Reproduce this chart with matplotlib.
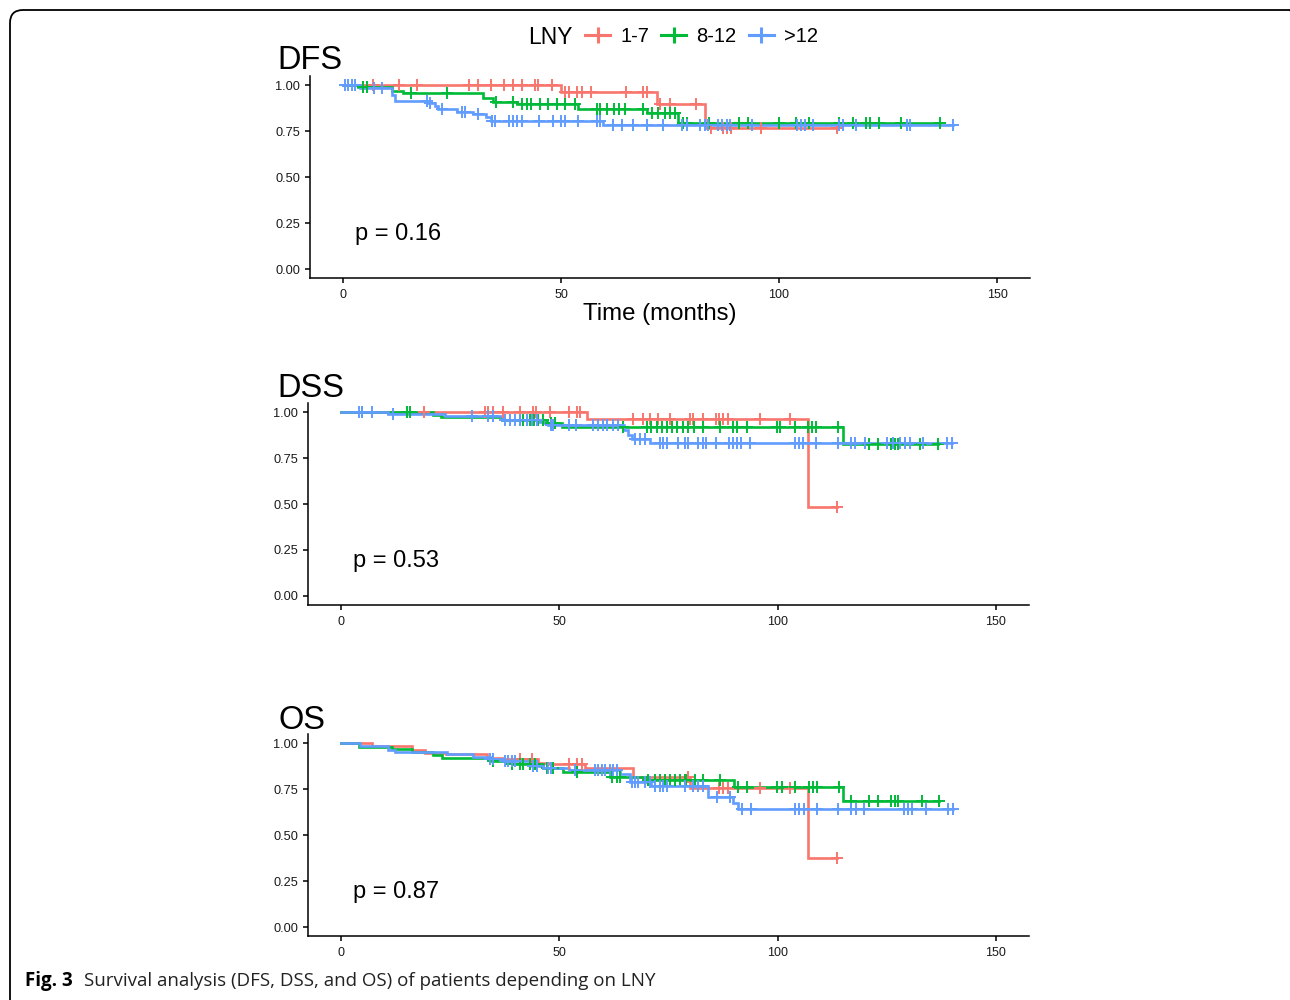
import numpy as np
import matplotlib
matplotlib.use("Agg")
import matplotlib.pyplot as plt
from matplotlib.lines import Line2D
from matplotlib.patches import FancyBboxPatch

# ---------------- data ----------------
groups = ["1-7", "8-12", ">12"]
colors = ["#F8766D", "#00BA38", "#619CFF"]
panel_names = ["DFS", "DSS", "OS"]
pvalues = ["p = 0.16", "p = 0.53", "p = 0.87"]
xticks = [0, 50, 100, 150]
yticks = [0.00, 0.25, 0.50, 0.75, 1.00]
xlabel = "Time (months)"
caption_bold = "Fig. 3"
caption_rest = "Survival analysis (DFS, DSS, and OS) of patients depending on LNY"

# DFS
dfs_red_t = [50.0, 72.0, 83.0]
dfs_red_s = [0.964, 0.897, 0.765]
dfs_red_end = 113.2
dfs_red_c = [6.8, 12.9, 16.9, 29.0, 30.9, 33.9, 36.9, 38.9, 41.0, 44.0, 44.8, 47.9,
             50.9, 51.9, 53.6, 54.9, 56.9, 64.9, 68.9, 69.8, 72.7, 75.0, 81.0,
             84.5, 87.1, 88.0, 88.9, 95.9, 113.2]
dfs_green_t = [3.5, 11.2, 13.8, 32.0, 34.4, 39.8, 54.0, 69.7, 76.9]
dfs_green_s = [0.987, 0.969, 0.955, 0.931, 0.906, 0.895, 0.870, 0.846, 0.795]
dfs_green_end = 136.9
dfs_green_c = [4.7, 5.6, 15.7, 23.8, 35.0, 38.9, 41.0, 42.1, 43.1, 45.2, 47.1, 49.0,
               50.9, 53.2, 58.2, 58.9, 60.5, 62.2, 63.4, 64.7, 68.9, 70.8, 72.3,
               73.9, 75.0, 76.1, 77.9, 79.0, 84.0, 90.9, 93.0, 99.9, 103.9, 106.9,
               113.8, 116.9, 120.0, 120.9, 122.9, 127.9, 136.9]
dfs_blue_t = [3.9, 11.2, 11.9, 19.5, 21.1, 21.9, 26.1, 29.9, 32.8, 33.9, 59.7]
dfs_blue_s = [0.982, 0.946, 0.915, 0.900, 0.886, 0.870, 0.855, 0.842, 0.828, 0.806, 0.781]
dfs_blue_end = 140.0
dfs_blue_c = [0.5, 1.2, 2.0, 2.8, 7.0, 8.9, 19.2, 20.0, 22.6, 27.2, 28.0, 30.9, 34.2,
              34.9, 38.1, 39.1, 40.0, 41.0, 45.0, 48.2, 50.1, 50.9, 53.8, 58.2,
              58.9, 61.9, 63.9, 66.6, 69.8, 73.5, 77.7, 79.0, 81.9, 83.0, 83.8,
              86.1, 86.9, 88.0, 88.8, 93.7, 104.1, 105.0, 106.0, 107.9, 113.8,
              114.7, 117.7, 129.4, 130.0, 140.0]

# DSS
dss_red_t = [56.3, 106.9]
dss_red_s = [0.963, 0.482]
dss_red_end = 113.5
dss_red_c = [19.1, 33.0, 33.7, 34.9, 37.2, 41.0, 44.0, 44.7, 47.9, 52.1, 54.0, 54.7,
             66.9, 69.2, 70.8, 72.7, 75.3, 79.9, 80.7, 82.8, 85.9, 86.6, 87.4,
             88.7, 95.9, 102.8, 113.5]
dss_green_t = [21.1, 23.0, 36.8, 47.1, 50.5, 115.0]
dss_green_s = [0.984, 0.971, 0.957, 0.938, 0.920, 0.826]
dss_green_end = 136.8
dss_green_c = [4.7, 15.0, 15.8, 41.0, 41.7, 43.3, 44.2, 45.2, 46.3, 48.0, 49.0, 64.6,
               70.0, 71.1, 72.3, 73.4, 74.6, 75.7, 76.9, 78.4, 79.5, 80.8, 82.8,
               86.9, 89.8, 90.7, 92.9, 99.9, 100.5, 104.0, 107.0, 107.9, 108.8,
               113.9, 121.0, 122.9, 125.9, 126.9, 127.6, 132.7, 136.8]
dss_blue_t = [10.8, 23.8, 36.8, 45.0, 46.3, 47.5, 64.7, 65.8, 66.6, 70.8]
dss_blue_s = [0.989, 0.978, 0.957, 0.947, 0.938, 0.929, 0.902, 0.875, 0.851, 0.833]
dss_blue_end = 140.0
dss_blue_c = [4.0, 4.7, 7.0, 12.0, 29.9, 33.7, 34.9, 37.6, 38.7, 39.8, 41.0, 42.5,
              43.7, 44.8, 48.2, 48.6, 52.1, 53.8, 57.8, 58.8, 59.9, 61.0, 62.2,
              63.4, 67.3, 68.5, 69.6, 73.0, 73.8, 74.6, 77.2, 78.8, 79.5, 81.8,
              82.8, 83.7, 85.8, 88.9, 89.8, 90.7, 91.7, 93.7, 104.0, 105.0, 105.9,
              108.8, 113.9, 116.9, 117.7, 119.9, 125.0, 126.4, 128.0, 129.1,
              130.2, 133.3, 138.7, 140.0]

# OS
os_red_t = [7.0, 16.2, 19.2, 24.0, 33.4, 37.2, 45.2, 47.9, 55.9, 66.9, 79.9, 106.9]
os_red_s = [0.984, 0.962, 0.947, 0.938, 0.920, 0.913, 0.893, 0.884, 0.862, 0.817,
            0.754, 0.373]
os_red_end = 113.5
os_red_c = [41.0, 43.7, 52.1, 54.0, 55.1, 79.5, 86.6, 87.5, 88.7, 95.9, 102.8, 113.5]
os_green_t = [4.0, 11.6, 16.2, 21.1, 23.1, 34.1, 39.1, 46.3, 50.9, 61.6, 70.4, 90.0,
              115.0]
os_green_s = [0.976, 0.966, 0.953, 0.935, 0.920, 0.902, 0.884, 0.866, 0.844, 0.817,
              0.800, 0.762, 0.686]
os_green_end = 137.0
os_green_c = [34.9, 39.1, 41.0, 41.7, 43.3, 44.4, 47.1, 48.6, 54.0, 62.0, 63.1, 63.9,
              70.4, 71.9, 73.1, 74.2, 75.3, 76.5, 77.6, 78.8, 79.0, 81.1, 83.0,
              86.9, 91.0, 92.9, 99.9, 100.9, 104.0, 107.2, 108.0, 108.9, 114.1,
              116.9, 121.0, 122.9, 125.9, 126.9, 127.6, 133.0, 137.0]
os_blue_t = [4.4, 10.8, 12.4, 24.2, 30.3, 34.1, 37.2, 43.7, 46.3, 52.1, 63.9, 66.2,
             71.1, 84.1, 89.8, 91.0]
os_blue_s = [0.984, 0.962, 0.950, 0.938, 0.926, 0.911, 0.902, 0.875, 0.866, 0.853,
             0.830, 0.790, 0.765, 0.708, 0.672, 0.641]
os_blue_end = 140.2
os_blue_c = [34.1, 34.9, 37.6, 38.3, 39.1, 39.8, 44.0, 44.8, 47.5, 48.2, 53.5, 58.2,
             58.9, 59.7, 60.5, 61.6, 62.4, 63.1, 66.6, 67.3, 68.1, 69.6, 70.8,
             71.9, 73.1, 73.8, 74.6, 78.8, 80.7, 81.8, 83.0, 86.0, 89.1, 91.8,
             94.0, 104.0, 105.0, 106.0, 108.9, 113.9, 116.9, 117.9, 119.8, 128.9,
             129.9, 130.8, 134.0, 139.1, 140.2]

panels = [
    [(dfs_red_t, dfs_red_s, dfs_red_end, dfs_red_c),
     (dfs_green_t, dfs_green_s, dfs_green_end, dfs_green_c),
     (dfs_blue_t, dfs_blue_s, dfs_blue_end, dfs_blue_c)],
    [(dss_red_t, dss_red_s, dss_red_end, dss_red_c),
     (dss_green_t, dss_green_s, dss_green_end, dss_green_c),
     (dss_blue_t, dss_blue_s, dss_blue_end, dss_blue_c)],
    [(os_red_t, os_red_s, os_red_end, os_red_c),
     (os_green_t, os_green_s, os_green_end, os_green_c),
     (os_blue_t, os_blue_s, os_blue_end, os_blue_c)],
]

# ---------------- fonts ----------------
arial = ["Liberation Sans", "DejaVu Sans"]
capfont = ["Open Sans", "DejaVu Sans"]

W, H = 1290, 1000
fig = plt.figure(figsize=(W / 100, H / 100), dpi=100)
fig.patch.set_facecolor("white")

def fx(px):
    return px / W

def fy(py):
    return 1 - py / H

# axes boxes (pixels: left, top, right, bottom)
boxes = [(310.3, 75.8, 1029.7, 278.2),
         (308.3, 402.8, 1028.7, 605.2),
         (308.3, 733.8, 1028.7, 936.2)]
title_pos = [(277, 69), (277, 397), (278, 729)]

def step_xy(t, s, end):
    x = np.concatenate([[0.0], np.asarray(t, float), [end]])
    y = np.concatenate([[1.0], np.asarray(s, float), [s[-1]]])
    return x, y

def surv_at(t, s, c):
    t = np.asarray(t, float)
    s = np.concatenate([[1.0], np.asarray(s, float)])
    idx = np.searchsorted(t, np.asarray(c, float), side="right")
    return s[idx]

for i, (box, curves) in enumerate(zip(boxes, panels)):
    l, t_, r, b = box
    ax = fig.add_axes([fx(l), fy(b), (r - l) / W, (b - t_) / H])
    ax.set_xlim(-7.5, 157.5)
    ax.set_ylim(-0.05, 1.05)
    for k, (tt, ss, end, cc) in enumerate(curves):
        x, y = step_xy(tt, ss, end)
        ax.plot(x, y, drawstyle="steps-post", color=colors[k], lw=1.9,
                solid_joinstyle="miter", zorder=2 + k)
    for k, (tt, ss, end, cc) in enumerate(curves):
        ax.plot(cc, surv_at(tt, ss, cc), ls="none", marker="+", ms=8,
                mew=1.4, color=colors[k], zorder=6 + k)
    for side in ["top", "right"]:
        ax.spines[side].set_visible(False)
    for side in ["left", "bottom"]:
        ax.spines[side].set_linewidth(1.1)
        ax.spines[side].set_color("black")
    ax.set_xticks(xticks)
    ax.set_yticks(yticks)
    ax.set_xticklabels([str(v) for v in xticks], fontfamily=arial, fontsize=9)
    ax.set_yticklabels([f"{v:.2f}" for v in yticks], fontfamily=arial, fontsize=9.2)
    ax.tick_params(axis="both", length=3.5, width=1.1, color="black",
                   labelcolor="#1a1a1a", pad=4)
    ax.text(2.8, 0.19, pvalues[i], fontfamily=arial, fontsize=17,
            ha="left", va="center", color="black")
    fig.text(fx(title_pos[i][0]), fy(title_pos[i][1]), panel_names[i],
             fontfamily=arial, fontsize=23.5, ha="left", va="baseline",
             color="black")
    if i == 0:
        ax.set_xlabel(xlabel, fontfamily=arial, fontsize=17.3)
        ax.xaxis.set_label_coords((660 - l) / (r - l), -(314 - b) / (b - t_))
        ax.xaxis.label.set_va("center")

# legend
fig.text(fx(528), fy(37), "LNY", fontfamily=arial, fontsize=16.5,
         ha="left", va="center")
handles = [Line2D([], [], color=c, lw=2.2, marker="+", ms=11, mew=2.2)
           for c in colors]
fig.legend(handles, groups, loc="center left",
           bbox_to_anchor=(fx(585), fy(37)), ncol=3, frameon=False,
           prop={"family": arial, "size": 14.5}, handlelength=1.25,
           handletextpad=0.5, columnspacing=0.6, borderpad=0,
           borderaxespad=0)

# caption
fig.text(fx(25), fy(981), caption_bold, fontfamily=capfont,
         fontweight="bold", fontsize=13.5, ha="left", va="center")
fig.text(fx(84), fy(981), caption_rest, fontfamily=capfont,
         fontsize=13.5, ha="left", va="center", color="#222222")

# page frame with rounded corner
frame = FancyBboxPatch((0.10, -1.0), 12.93, 9.90 + 1.0,
                       boxstyle="round,pad=0,rounding_size=0.13",
                       transform=fig.dpi_scale_trans, fill=False,
                       ec="black", lw=1.3)
fig.add_artist(frame)

fig.savefig("out.png", dpi=100)
